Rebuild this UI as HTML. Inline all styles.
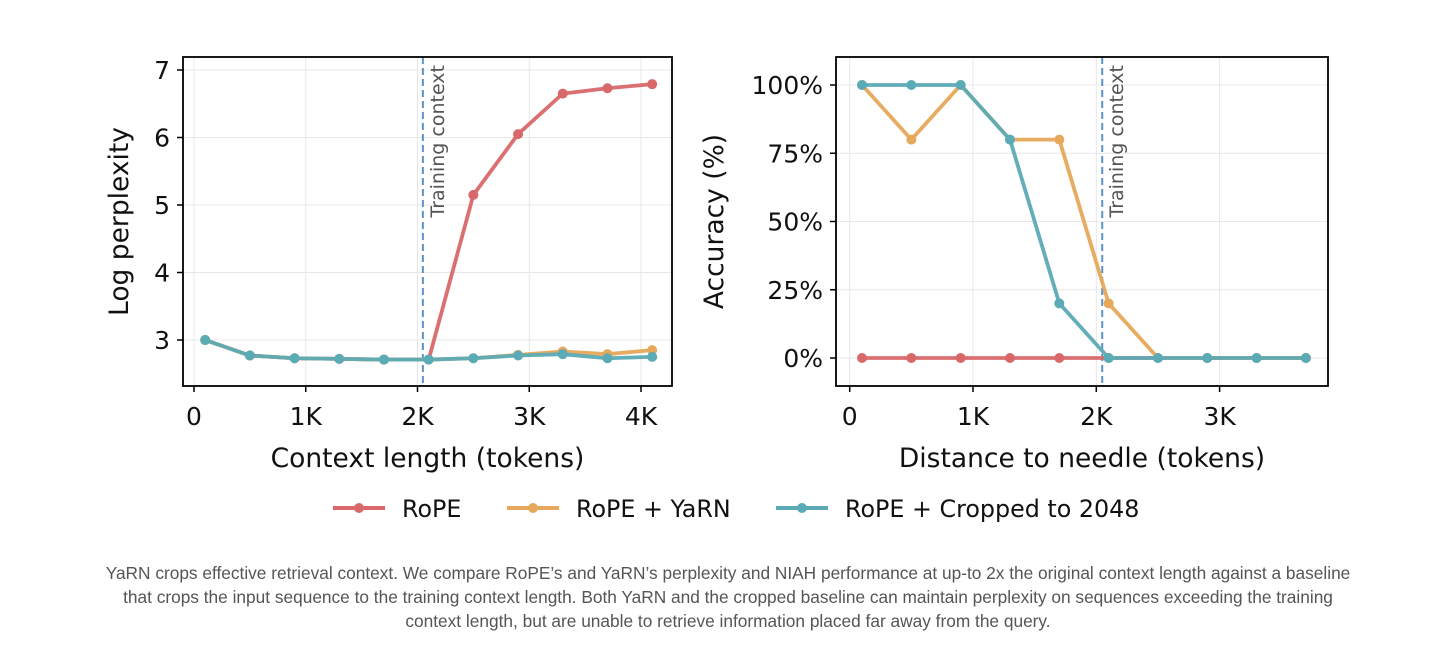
<!DOCTYPE html>
<html><head><meta charset="utf-8"><style>
body{margin:0;background:#fff;width:1456px;height:669px;overflow:hidden;font-family:"DejaVu Sans","Liberation Sans",sans-serif}
#cap{position:absolute;left:0;top:561px;width:1456px;text-align:center;font-family:"Liberation Sans",sans-serif;font-size:17.3px;line-height:24px;color:#555}
</style></head><body>
<svg id="svg" width="1456" height="669" style="position:absolute;left:0;top:0"></svg>
<div id="cap">YaRN crops effective retrieval context. We compare RoPE’s and YaRN’s perplexity and NIAH performance at up-to 2x the original context length against a baseline<br>that crops the input sequence to the training context length. Both YaRN and the cropped baseline can maintain perplexity on sequences exceeding the training<br>context length, but are unable to retrieve information placed far away from the query.</div>
<script>
const leftX=[100,500,900,1300,1700,2100,2500,2900,3300,3700,4100];
const leftRope=[3.0,2.77,2.73,2.72,2.71,2.71,5.15,6.05,6.65,6.73,6.79];
const leftYarn=[3.0,2.77,2.73,2.72,2.71,2.71,2.73,2.78,2.83,2.79,2.85];
const leftCrop=[3.0,2.77,2.73,2.72,2.71,2.71,2.73,2.77,2.79,2.73,2.75];
const leftXTicks=[0,1000,2000,3000,4000];
const leftXTickLabels=["0","1K","2K","3K","4K"];
const leftYTicks=[3,4,5,6,7];
const rightX=[100,500,900,1300,1700,2100,2500,2900,3300,3700];
const rightRope=[0,0,0,0,0,0,0,0,0,0];
const rightYarn=[100,80,100,80,80,20,0,0,0,0];
const rightCrop=[100,100,100,80,20,0,0,0,0,0];
const rightXTicks=[0,1000,2000,3000];
const rightXTickLabels=["0","1K","2K","3K"];
const rightYTicks=[0,25,50,75,100];
const trainCtx=2048;
const C={rope:"#d9686a",yarn:"#e6a85a",crop:"#5aabb5"};
const NS="http://www.w3.org/2000/svg";
const svg=document.getElementById('svg');
function el(t,a,p){const e=document.createElementNS(NS,t);for(const k in a)e.setAttribute(k,a[k]);(p||svg).appendChild(e);return e;}
function panel(o){
 const g=el('g',{});
 
 
 const sx=v=>o.x0+(v-o.xmin)*o.xs, sy=v=>o.y0-(v-o.ymin)*o.ys;
 o.yt.forEach((t,i)=>{el('line',{x1:o.L,x2:o.R,y1:sy(t),y2:sy(t),stroke:'#e8e8e8','stroke-width':1},g);
  el('line',{x1:o.L-6,x2:o.L,y1:sy(t),y2:sy(t),stroke:'#000','stroke-width':1.5},g);
  const tx=el('text',{x:o.L-13,y:sy(t)+9,'text-anchor':'end','font-size':25,fill:'#111'},g);tx.textContent=o.yl(t);
  });
 o.xt.forEach((t,i)=>{el('line',{x1:sx(t),x2:sx(t),y1:o.T,y2:o.B,stroke:'#e8e8e8','stroke-width':1},g);
  el('line',{x1:sx(t),x2:sx(t),y1:o.B,y2:o.B+6,stroke:'#000','stroke-width':1.5},g);
  const tx=el('text',{x:sx(t),y:o.B+39,'text-anchor':'middle','font-size':25,fill:'#111'},g);tx.textContent=o.xtl[i];
  });
 const dx=sx(trainCtx);
 const dl=el('line',{x1:dx,x2:dx,y1:o.T,y2:o.B,stroke:'#5b93c7','stroke-width':2,'stroke-dasharray':'7,4'},g);
 
 const tt=el('text',{transform:`translate(${dx+21},${o.T+8}) rotate(-90)`,'text-anchor':'end','font-size':19,fill:'#555'},g);tt.textContent='Training context';
 
 o.series.forEach(s=>{
  const pts=o.xv.map((x,i)=>sx(x)+','+sy(s.v[i])).join(' ');
  const pl=el('polyline',{points:pts,fill:'none',stroke:s.c,'stroke-width':3.8,'stroke-linejoin':'round','stroke-opacity':0.95},g);
  
  o.xv.forEach((x,i)=>{const c=el('circle',{cx:sx(x),cy:sy(s.v[i]),r:5,fill:s.c},g);
   });
 });
 el('rect',{x:o.L,y:o.T,width:o.R-o.L,height:o.B-o.T,fill:'none',stroke:'#000','stroke-width':1.8},g);
 const xl=el('text',{x:(o.L+o.R)/2,y:467,'text-anchor':'middle','font-size':26.5,fill:'#111'},g);xl.textContent=o.xlab;
 
 const yl=el('text',{transform:`translate(${o.ylx},${(o.T+o.B)/2}) rotate(-90)`,'text-anchor':'middle','font-size':26.5,fill:'#111'},g);yl.textContent=o.ylab;
 
}
panel({name:'perplexity-chart',L:183,R:672,T:57,B:386,x0:194,xmin:0,xs:0.11175,y0:340,ymin:3,ys:67.5,
 xt:leftXTicks,xtl:leftXTickLabels,yt:leftYTicks,yl:t=>String(t),xv:leftX,
 series:[{n:'rope',c:C.rope,v:leftRope},{n:'yarn',c:C.yarn,v:leftYarn},{n:'cropped',c:C.crop,v:leftCrop}],
 xlab:'Context length (tokens)',ylab:'Log perplexity',ylx:128});
panel({name:'accuracy-chart',L:836,R:1328,T:57,B:386,x0:849.7,xmin:0,xs:0.1233,y0:358,ymin:0,ys:2.73,
 xt:rightXTicks,xtl:rightXTickLabels,yt:rightYTicks,yl:t=>t+'%',xv:rightX,
 series:[{n:'rope',c:C.rope,v:rightRope},{n:'yarn',c:C.yarn,v:rightYarn},{n:'cropped',c:C.crop,v:rightCrop}],
 xlab:'Distance to needle (tokens)',ylab:'Accuracy (%)',ylx:723});
const leg=[['RoPE',C.rope,333],['RoPE + YaRN',C.yarn,507],['RoPE + Cropped to 2048',C.crop,776]];
leg.forEach(l=>{const g=el('g',{});
 
 
 el('line',{x1:l[2],x2:l[2]+52,y1:508,y2:508,stroke:l[1],'stroke-width':4},g);
 el('circle',{cx:l[2]+26,cy:508,r:5,fill:l[1]},g);
 const t=el('text',{x:l[2]+69,y:517,'font-size':23.8,fill:'#111'},g);t.textContent=l[0];});
</script>
</body></html>
